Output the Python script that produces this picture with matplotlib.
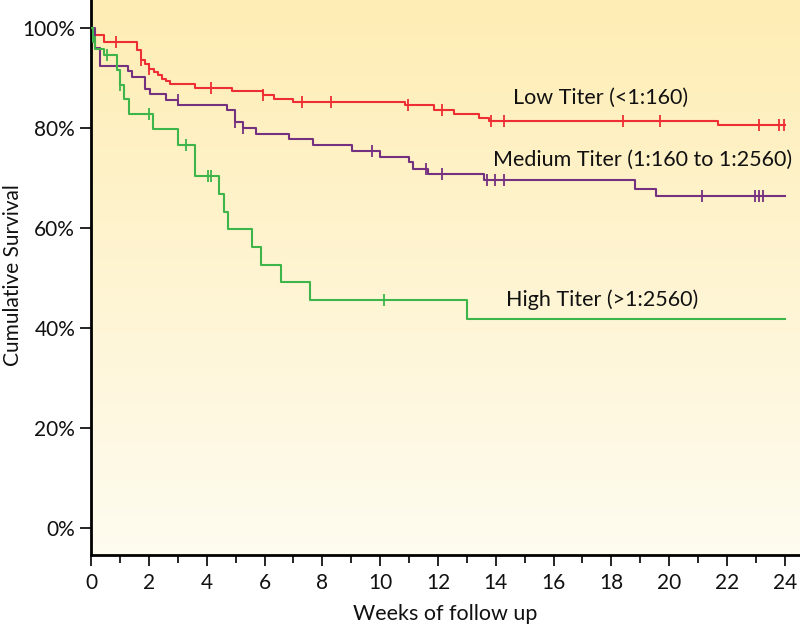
import numpy as np
import matplotlib
matplotlib.use("Agg")
import matplotlib.pyplot as plt
from matplotlib.colors import LinearSegmentedColormap

# Kaplan-Meier steps (weeks, % surviving)
low_t = [0, 0.05, 0.43, 1.58, 1.72, 1.87, 2.01, 2.16, 2.30, 2.45, 2.60, 2.73, 3.60,
         4.87, 5.94, 6.31, 7.0, 10.87, 11.85, 12.56, 13.43, 13.75, 21.68, 24.0]
low_s = [100, 98.7, 97.2, 95.7, 93.7, 92.9, 91.9, 91.2, 90.6, 89.9, 89.4, 88.8, 88.1,
         87.5, 86.6, 85.9, 85.3, 84.6, 83.7, 82.9, 82.1, 81.5, 80.6, 80.6]
low_cens = [0.1, 0.87, 1.72, 2.01, 4.15, 5.94, 7.29, 8.29, 10.98, 12.13, 13.84, 14.27,
            18.42, 19.69, 23.12, 23.82, 23.96]

med_t = [0, 0.14, 0.29, 1.29, 1.41, 1.87, 2.02, 2.6, 3.02, 4.69, 4.98, 5.27, 5.71,
         6.86, 7.69, 9.02, 10.0, 11.01, 11.13, 11.67, 13.58, 18.82, 19.55, 24.0]
med_s = [100, 96.0, 92.4, 91.4, 90.3, 87.9, 86.8, 85.7, 84.6, 83.6, 81.3, 80.1, 78.9,
         77.9, 76.6, 75.4, 74.3, 73.3, 71.9, 70.8, 69.6, 67.9, 66.5, 66.5]
med_cens = [3.0, 4.98, 5.27, 9.71, 11.58, 12.13, 13.69, 13.98, 14.27, 21.13, 22.98,
            23.12, 23.26]

high_t = [0, 0.05, 0.14, 0.43, 0.89, 1.0, 1.15, 1.31, 2.13, 3.02, 3.58, 4.44, 4.58,
          4.72, 5.58, 5.87, 6.57, 7.58, 13.0, 24.0]
high_s = [100, 97.3, 95.9, 94.6, 91.6, 88.6, 85.9, 82.8, 79.9, 76.7, 70.4, 66.9, 63.3,
          59.8, 56.3, 52.7, 49.3, 45.7, 41.9, 41.9]
high_cens = [0.12, 0.56, 1.0, 2.01, 3.29, 4.04, 4.14, 10.14]

labels = ["Low Titer (<1:160)", "Medium Titer (1:160 to 1:2560)", "High Titer (>1:2560)"]
colors = ["#ED2F33", "#74317F", "#3DB54A"]
label_pos = [(14.6, 86.0), (13.9, 73.6), (14.35, 45.6)]

xticks = list(range(0, 25, 2))
yticks = [0, 20, 40, 60, 80, 100]

plt.rcParams['font.family'] = ['Lato', 'DejaVu Sans']

fig = plt.figure(figsize=(8, 6.33), dpi=100)
ax = fig.add_axes([0.114, 0.123, 0.886, 0.877])

# background gradient, darker at top
grad = LinearSegmentedColormap.from_list("bg", ["#FFFCF0", "#FEEDB4"])
ax.imshow(np.linspace(0, 1, 256).reshape(-1, 1), cmap=grad, origin="lower",
          extent=[0, 1, 0, 1], transform=ax.transAxes, aspect="auto", zorder=0)

groups = [(low_t, low_s, low_cens), (med_t, med_s, med_cens), (high_t, high_s, high_cens)]
for (t, s, cens), col in zip(groups, colors):
    ax.plot(t, s, drawstyle="steps-post", color=col, lw=1.5, zorder=3)
    t_arr = np.array(t)
    idx = np.searchsorted(t_arr, cens, side="right") - 1
    ax.plot(cens, np.array(s)[idx], ls="none", marker="|", ms=9, mew=1.3,
            color=col, zorder=3)

for txt, (x, y) in zip(labels, label_pos):
    ax.text(x, y, txt, fontsize=15.5, va="center", ha="left", color="#111111")

ax.set_xlim(0, 24.53)
ax.set_ylim(-5.4, 105.6)
ax.set_xticks(xticks)
ax.set_xticks(range(1, 25, 2), minor=True)
ax.set_yticks(yticks)
ax.set_yticklabels([f"{v}%" for v in yticks])
ax.tick_params(axis="both", labelsize=15, width=1.2, length=8, direction="out",
               labelcolor="#111111")
ax.tick_params(axis="x", which="minor", width=1.2, length=6)
ax.tick_params(axis="x", pad=5)

for side in ["top", "right"]:
    ax.spines[side].set_visible(False)
for side in ["left", "bottom"]:
    ax.spines[side].set_linewidth(2)

ax.set_xlabel("Weeks of follow up", fontsize=15.5, labelpad=8, color="#111111")
ax.set_ylabel("Cumulative Survival", fontsize=15, color="#111111", va="center")
ax.yaxis.set_label_coords(-0.11, 0.505)

fig.savefig("out.png", dpi=100)
